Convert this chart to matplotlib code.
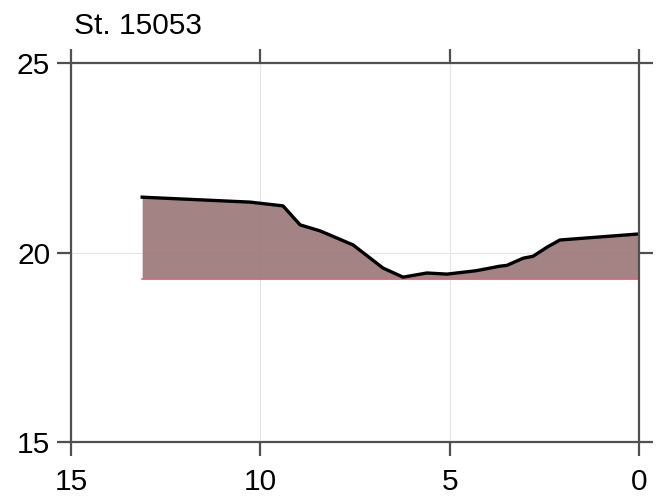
import matplotlib
import matplotlib.pyplot as plt
import numpy as np

matplotlib.use("Agg")

plt.rcParams["font.family"] = ["Liberation Sans", "DejaVu Sans"]

# cross-section profile (distance, depth)
distance = [13.12, 10.27, 9.40, 8.95, 8.42, 8.16, 7.55, 6.76, 6.23, 5.60,
            5.07, 4.30, 3.67, 3.49, 3.06, 2.80, 2.43, 2.09, 0.0]
level = [21.46, 21.33, 21.23, 20.73, 20.57, 20.46, 20.20, 19.59, 19.35, 19.46,
         19.43, 19.52, 19.64, 19.66, 19.85, 19.90, 20.14, 20.33, 20.49]
base_level = 19.30
station = "St. 15053"

fig = plt.figure(figsize=(6.61, 4.99), dpi=100)
ax = fig.add_axes([0.1074, 0.1142, 0.8593, 0.7595])

x = np.array(distance)
y = np.array(level)
ax.fill_between(x, base_level, y, color="#9f7c7e", alpha=0.95, linewidth=0)
ax.plot([x.min(), x.max()], [base_level, base_level], color="#c9707e", lw=1.2)
ax.plot(x, y, color="black", lw=2.4, solid_joinstyle="round")

ax.set_xlim(15, 0)
ax.set_ylim(15, 25)
ax.set_xticks([15, 10, 5, 0])
ax.set_yticks([15, 20, 25])
ax.grid(True, color="#e6e6e6", lw=0.9)
ax.set_axisbelow(True)

for s in ax.spines.values():
    s.set_color("#505050")
    s.set_linewidth(1.6)
ax.tick_params(direction="out", length=10, width=1.6, color="#505050",
               labelsize=21.5, top=True, right=True,
               labeltop=False, labelright=False)
ax.tick_params(axis="x", pad=9)
ax.tick_params(axis="y", pad=5)

ax.text(0.005, 1.0765, station, transform=ax.transAxes, fontsize=21.5,
        ha="left", va="baseline")

plt.savefig("out.png", dpi=100)
plt.close()
